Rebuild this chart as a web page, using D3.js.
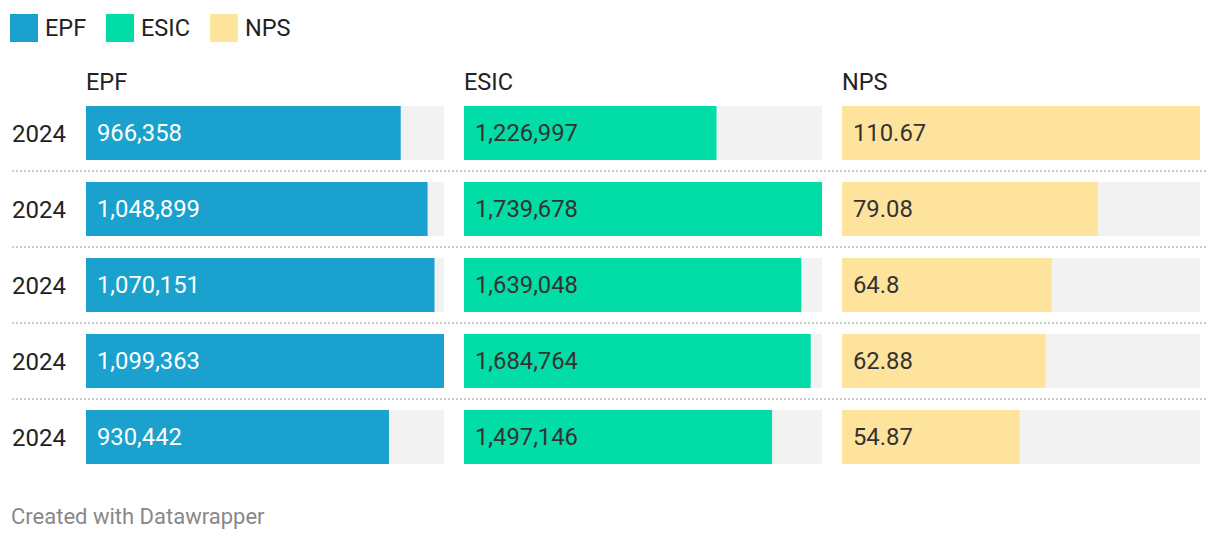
<!DOCTYPE html>
<html><head><meta charset="utf-8">
<script src="https://cdn.jsdelivr.net/npm/d3@7"></script>
<style>body{margin:0;background:#fff;font-family:Roboto,"Noto Sans",sans-serif;}</style>
</head><body><svg id="c" width="1220" height="542"></svg>
<script>
const years = ["2024","2024","2024","2024","2024"];
const seriesNames = ["EPF","ESIC","NPS"];
const epf = [966358, 1048899, 1070151, 1099363, 930442];
const esic = [1226997, 1739678, 1639048, 1684764, 1497146];
const nps = [110.67, 79.08, 64.8, 62.88, 54.87];
const labelsNps = ["110.67","79.08","64.8","62.88","54.87"];

const colors = ["#1aa1cd", "#02dca7", "#fee39c"];
const textColors = ["#ffffff", "#333333", "#333333"];
const series = [epf, esic, nps];
const fmt = d3.format(",");
const labelFns = [d => fmt(d), d => fmt(d), (d,i) => labelsNps[i]];

const svg = d3.select("#c");
const font = "Roboto, 'Noto Sans', sans-serif";

// legend
const legX = [10, 106, 210];
seriesNames.forEach((n,i)=>{
  svg.append("rect").attr("x",legX[i]).attr("y",14).attr("width",28).attr("height",28).attr("fill",colors[i]);
  svg.append("text").attr("x",legX[i]+35).attr("y",28).attr("dy","0.35em")
    .attr("font-family",font).attr("font-size",23.5).attr("fill","#222").text(n);
});

const colX = [86, 464, 842];
const colW = 358;
const yPos = i => 106 + i*76;
const bh = 54;

// separators
for (let i=1;i<years.length;i++){
  const sy = yPos(i) - 11;
  svg.append("line").attr("x1",12).attr("x2",1208).attr("y1",sy).attr("y2",sy)
    .attr("stroke","#cccccc").attr("stroke-width",2).attr("stroke-dasharray","2,2");
}

// year labels
years.forEach((yr,i)=>{
  svg.append("text").attr("x",12).attr("y",yPos(i)+bh/2+1).attr("dy","0.35em")
    .attr("font-family",font).attr("font-size",24).attr("fill","#222").text(yr);
});

series.forEach((vals,s)=>{
  const x = d3.scaleLinear().domain([0, d3.max(vals)]).range([0, colW]);
  const g = svg.append("g").attr("transform",`translate(${colX[s]},0)`);
  g.append("text").attr("x",0).attr("y",81.5).attr("dy","0.35em")
    .attr("font-family",font).attr("font-size",23.5).attr("fill","#222").text(seriesNames[s]);
  g.selectAll("rect.bg").data(vals).join("rect").attr("class","bg")
    .attr("x",0).attr("y",(d,i)=>yPos(i)).attr("width",colW).attr("height",bh).attr("fill","#f2f2f2");
  g.selectAll("rect.bar").data(vals).join("rect").attr("class","bar")
    .attr("x",0).attr("y",(d,i)=>yPos(i)).attr("width",d=>x(d)).attr("height",bh).attr("fill",colors[s]);
  g.selectAll("text.val").data(vals).join("text").attr("class","val")
    .attr("x",11).attr("y",(d,i)=>yPos(i)+bh/2).attr("dy","0.35em")
    .attr("font-family",font).attr("font-size",23.8).attr("fill",textColors[s])
    .text((d,i)=>labelFns[s](d,i));
});

svg.append("text").attr("x",11).attr("y",516).attr("dy","0.35em")
  .attr("font-family",font).attr("font-size",22).attr("fill","#888").text("Created with Datawrapper");
</script></body></html>
